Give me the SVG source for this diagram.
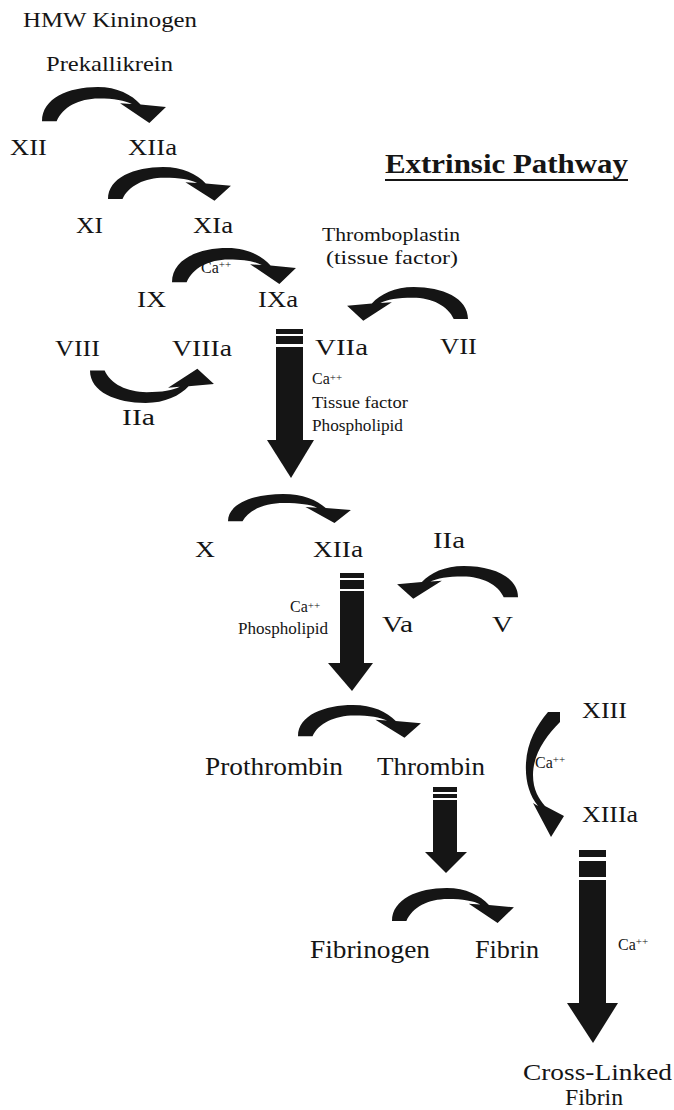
<svg xmlns="http://www.w3.org/2000/svg" xmlns:xlink="http://www.w3.org/1999/xlink" width="674" height="1110" viewBox="0 0 674 1110">
<style>
text{font-family:"Liberation Serif","Times New Roman",serif;fill:#151515}
.lb{font-size:23px}
.lg{font-size:25px}
.sm{font-size:16px}
.ca{font-size:16px}
.sup{font-size:11px}
.ar{fill:#151515}
</style>
<defs>
<path id="carc" d="M0,36 C0,12 27,0 57,0 C77,0 92,8 101,18.5 L127,21 L110,38 L80,17 L92,18 C85,14 74,12 58,12 C38,12 21,21 15,36 Z"/>
</defs>
<rect width="674" height="1110" fill="#ffffff"/>
<g id="connectors" class="ar">
<use xlink:href="#carc" transform="translate(42,87) scale(0.976,0.95)"/>
<use xlink:href="#carc" transform="translate(108,167) scale(0.968,0.89)"/>
<use xlink:href="#carc" transform="translate(172,248) scale(0.976,0.95)"/>
<use xlink:href="#carc" transform="translate(468,287) scale(-0.952,0.89)"/>
<use xlink:href="#carc" transform="translate(90,403) scale(0.976,-0.9)"/>
<use xlink:href="#carc" transform="translate(228,494) scale(0.968,0.76)"/>
<use xlink:href="#carc" transform="translate(518,566) scale(-0.952,0.865)"/>
<use xlink:href="#carc" transform="translate(298,705) scale(0.968,0.865)"/>
<use xlink:href="#carc" transform="translate(392,888) scale(0.96,0.92)"/>
<path d="M548,712 L560,712 L560,722 C545,737 533,755 533,775 C533,790 539,799 545,806 L564,816 L551,837 L533,803 L538,806 C529,795 525,780 526,763 C527,742 537,725 548,712 Z"/>
<g id="bigarrow1">
<rect x="276" y="329" width="27" height="5"/>
<rect x="276" y="336" width="27" height="8"/>
<rect x="276" y="347" width="27" height="94"/>
<polygon points="267,440 314,440 291,478"/>
</g>
<g id="bigarrow2">
<rect x="340" y="573" width="24" height="5"/>
<rect x="340" y="580" width="24" height="9"/>
<rect x="340" y="591" width="24" height="73"/>
<polygon points="328,663 373,663 352,691"/>
</g>
<g id="bigarrow3">
<rect x="433" y="787" width="24" height="5"/>
<rect x="433" y="794" width="24" height="4"/>
<rect x="433" y="800" width="24" height="53"/>
<polygon points="425,852 467,852 446,873"/>
</g>
<g id="bigarrow4">
<rect x="579" y="850" width="27" height="7"/>
<rect x="579" y="861" width="27" height="16"/>
<rect x="579" y="880" width="27" height="124"/>
<polygon points="567,1003 618,1003 593,1043"/>
</g>
</g>
<g id="n-hmw"><text x="23" y="27" font-size="21" textLength="174" lengthAdjust="spacingAndGlyphs">HMW Kininogen</text></g>
<g id="n-prek"><text x="46" y="71" font-size="21" textLength="127" lengthAdjust="spacingAndGlyphs">Prekallikrein</text></g>
<g id="n-xii"><text class="lb" x="10" y="155" textLength="37" lengthAdjust="spacingAndGlyphs">XII</text></g>
<g id="n-xiia"><text class="lb" x="128" y="155" textLength="49" lengthAdjust="spacingAndGlyphs">XIIa</text></g>
<g id="n-title"><text x="385" y="173" font-size="27" font-weight="bold" textLength="243" lengthAdjust="spacingAndGlyphs">Extrinsic Pathway</text><rect x="385" y="179" width="243" height="2" fill="#151515"/></g>
<g id="n-xi"><text class="lb" x="76" y="233" textLength="27" lengthAdjust="spacingAndGlyphs">XI</text></g>
<g id="n-xia"><text class="lb" x="193" y="233" textLength="40" lengthAdjust="spacingAndGlyphs">XIa</text></g>
<g id="n-thrombopl"><text x="322" y="241" font-size="18" textLength="138" lengthAdjust="spacingAndGlyphs">Thromboplastin</text><text x="326" y="264" font-size="18" textLength="132" lengthAdjust="spacingAndGlyphs">(tissue factor)</text></g>
<g id="n-ca1"><text class="ca" x="201" y="273">Ca<tspan class="sup" dy="-5">++</tspan></text></g>
<g id="n-ix"><text class="lb" x="137" y="307" textLength="29" lengthAdjust="spacingAndGlyphs">IX</text></g>
<g id="n-ixa"><text class="lb" x="258" y="307" textLength="40" lengthAdjust="spacingAndGlyphs">IXa</text></g>
<g id="n-viii"><text class="lb" x="55" y="356" textLength="45" lengthAdjust="spacingAndGlyphs">VIII</text></g>
<g id="n-viiia"><text class="lb" x="172" y="356" textLength="60" lengthAdjust="spacingAndGlyphs">VIIIa</text></g>
<g id="n-viia"><text class="lb" x="315" y="355" textLength="53" lengthAdjust="spacingAndGlyphs">VIIa</text></g>
<g id="n-vii"><text class="lb" x="440" y="354" textLength="37" lengthAdjust="spacingAndGlyphs">VII</text></g>
<g id="n-iia1"><text class="lb" x="122" y="425" textLength="33" lengthAdjust="spacingAndGlyphs">IIa</text></g>
<g id="n-cof1"><text class="ca" x="312" y="384">Ca<tspan class="sup" dy="-3">++</tspan></text><text class="sm" x="312" y="408" textLength="96" lengthAdjust="spacingAndGlyphs">Tissue factor</text><text class="sm" x="312" y="431" textLength="91" lengthAdjust="spacingAndGlyphs">Phospholipid</text></g>
<g id="n-x"><text class="lb" x="195" y="557" textLength="20" lengthAdjust="spacingAndGlyphs">X</text></g>
<g id="n-xiia2"><text class="lb" x="313" y="557" textLength="50" lengthAdjust="spacingAndGlyphs">XIIa</text></g>
<g id="n-iia2"><text class="lb" x="433" y="548" textLength="32" lengthAdjust="spacingAndGlyphs">IIa</text></g>
<g id="n-cof2"><text class="ca" x="290" y="612">Ca<tspan class="sup" dy="-3">++</tspan></text><text class="ca" x="238" y="634" textLength="90" lengthAdjust="spacingAndGlyphs">Phospholipid</text></g>
<g id="n-va"><text class="lb" x="382" y="632" textLength="31" lengthAdjust="spacingAndGlyphs">Va</text></g>
<g id="n-v"><text class="lb" x="492" y="632" textLength="21" lengthAdjust="spacingAndGlyphs">V</text></g>
<g id="n-prothrombin"><text class="lg" x="205" y="775" textLength="138" lengthAdjust="spacingAndGlyphs">Prothrombin</text></g>
<g id="n-thrombin"><text class="lg" x="377" y="775" textLength="108" lengthAdjust="spacingAndGlyphs">Thrombin</text></g>
<g id="n-xiii"><text class="lb" x="582" y="718" textLength="45" lengthAdjust="spacingAndGlyphs">XIII</text></g>
<g id="n-ca3"><text class="ca" x="535" y="768">Ca<tspan class="sup" dy="-5">++</tspan></text></g>
<g id="n-xiiia"><text class="lb" x="582" y="822" textLength="56" lengthAdjust="spacingAndGlyphs">XIIIa</text></g>
<g id="n-fibrinogen"><text class="lg" x="310" y="958" textLength="120" lengthAdjust="spacingAndGlyphs">Fibrinogen</text></g>
<g id="n-fibrin"><text class="lg" x="475" y="958" textLength="64" lengthAdjust="spacingAndGlyphs">Fibrin</text></g>
<g id="n-ca4"><text class="ca" x="618" y="950">Ca<tspan class="sup" dy="-5">++</tspan></text></g>
<g id="n-crosslinked"><text class="lb" x="523" y="1080" textLength="149" lengthAdjust="spacingAndGlyphs">Cross-Linked</text><text class="lb" x="565" y="1105" textLength="58" lengthAdjust="spacingAndGlyphs">Fibrin</text></g>
</svg>
